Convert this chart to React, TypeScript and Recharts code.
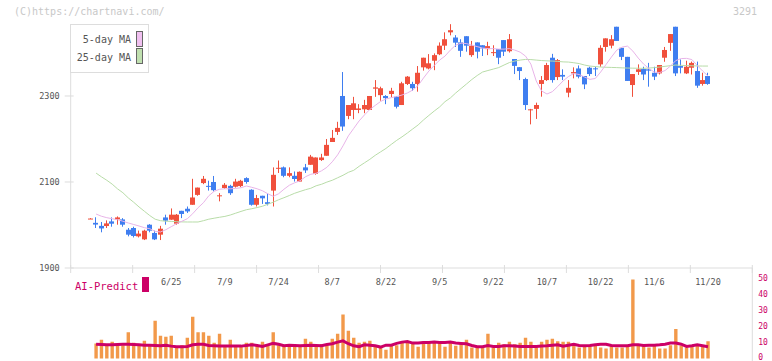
import React from 'react';
import { ComposedChart, Bar, Line, XAxis, YAxis } from 'recharts';

// ---- data ----
const tickIdx = [15, 25, 35, 45, 55, 65, 75, 85, 95, 105, 115];
const tickLabels = ['6/25', '7/9', '7/24', '8/7', '8/22', '9/5', '9/22', '10/7', '10/22', '11/6', '11/20'];
const priceTicks = [1900, 2100, 2300];
const volumeTicks = [0, 10, 20, 30, 40, 50];

const opens = [2015, 2005, 1998, 1997.6, 2008.4, 2013, 2013, 1989, 1993, 1973.6, 1966.6, 2000.7, 1981.5, 1977.5, 2017.6, 2012.3, 2003, 2033, 2037.8, 2047, 2070, 2097.5, 2091, 2100, 2068, 2086, 2091, 2089, 2090.5, 2109, 2082, 2047, 2068, 2053, 2080, 2131, 2134, 2114.4, 2114.4, 2101, 2134, 2140, 2119, 2151, 2161, 2193, 2216.5, 2300, 2253.6, 2267.5, 2267.5, 2269, 2267.5, 2317, 2302, 2300, 2304.6, 2298.4, 2279, 2328, 2328, 2328, 2366.6, 2364, 2382, 2397, 2417, 2448, 2436, 2424.6, 2439, 2395, 2424.6, 2418, 2409, 2400, 2409, 2430, 2404, 2386, 2367, 2339.4, 2267.5, 2270, 2328, 2337, 2389, 2344, 2349, 2307.7, 2352.6, 2364, 2346.4, 2365.7, 2364.3, 2373.5, 2414, 2417, 2461, 2412, 2391, 2325.5, 2356, 2362.6, 2362, 2354, 2352.6, 2389, 2423.6, 2461, 2369.6, 2352.6, 2365.7, 2358, 2328, 2346.4];
const highs = [2016, 2018, 2007, 2010.7, 2017.6, 2020, 2016, 1993, 1996, 1987, 1989, 2002, 1987, 1998, 2024, 2038.5, 2025.6, 2033, 2043, 2107.4, 2087, 2114, 2103, 2114, 2074, 2097.5, 2093.5, 2107.4, 2105, 2111, 2083, 2070, 2068, 2073, 2134, 2150, 2136, 2134, 2124.5, 2124.5, 2142, 2163, 2157, 2165.5, 2200, 2221, 2240, 2355.7, 2279, 2298, 2281, 2291, 2300, 2337, 2321.6, 2302, 2319, 2300, 2333, 2346.4, 2333, 2369.6, 2389, 2397.4, 2399, 2424.6, 2448, 2467, 2441.5, 2432, 2439, 2428, 2424.6, 2418, 2426, 2418, 2409, 2430, 2444, 2386, 2367, 2342.5, 2270, 2284.5, 2346.4, 2377, 2398, 2386, 2362, 2337, 2366.6, 2371, 2346.4, 2368, 2368, 2418, 2434, 2441.5, 2461, 2412, 2391, 2351, 2373.5, 2368, 2377, 2368, 2372, 2414, 2444, 2461, 2385, 2382, 2380, 2380, 2354, 2354];
const lows = [2014, 1993, 1983, 1993, 1996, 2000.7, 1996, 1973.6, 1971, 1971, 1965, 1983, 1965, 1965, 2000.7, 2012, 2000.7, 2016, 2028, 2047, 2068, 2095, 2080, 2078, 2055, 2084, 2070, 2087, 2088, 2096, 2045, 2043, 2049, 2045.5, 2043, 2121, 2111, 2111, 2101, 2101, 2121, 2140, 2117, 2149, 2161, 2193, 2209.5, 2219, 2246, 2246, 2260, 2260, 2267.5, 2298, 2289, 2281, 2297, 2271, 2279, 2325.5, 2312, 2310, 2359, 2362, 2360, 2395, 2407, 2441, 2414, 2391, 2403, 2391, 2387.5, 2393, 2395, 2393, 2374, 2393, 2401, 2351, 2337, 2267.5, 2234, 2246.6, 2298.4, 2335, 2331, 2337, 2337, 2297, 2341, 2341, 2316, 2346.4, 2346.4, 2368, 2403, 2410.7, 2428, 2383.5, 2335, 2298, 2349, 2337, 2321.6, 2337, 2350, 2379.6, 2405, 2346.4, 2352.6, 2351, 2350, 2319, 2324, 2326];
const closes = [2015, 2001, 1992, 2003.7, 2003, 2017.6, 2000.7, 1977.5, 1974.5, 1980, 1986.8, 1986.8, 1966.6, 1991.4, 2010, 2024, 2024, 2025.6, 2031.6, 2064, 2087, 2107.4, 2089, 2081, 2069, 2093.5, 2074, 2101, 2102.8, 2100, 2047, 2062.6, 2062, 2049, 2116.7, 2133, 2114.4, 2120.6, 2107, 2123.7, 2127, 2159, 2157, 2157, 2186.3, 2202.6, 2225.8, 2229, 2279, 2283, 2271, 2279, 2300, 2320, 2318, 2295, 2312, 2275, 2329.5, 2345, 2318, 2354, 2389, 2376, 2395, 2417, 2432, 2453, 2424, 2405, 2417, 2417, 2403, 2410.7, 2416, 2402, 2389, 2403, 2432, 2370, 2358, 2279, 2269, 2279, 2337, 2372, 2337, 2383.5, 2345, 2319, 2355.6, 2345, 2327, 2351, 2362, 2412, 2434, 2432, 2428, 2391, 2335, 2351, 2362, 2350, 2359, 2345, 2372, 2407, 2444, 2352.6, 2365.7, 2368, 2377, 2324, 2337, 2328];
const ma5 = [null, 2025.5, 2020.4, 2017, 2014.6, 2012.3, 2008.8, 2004.7, 2001.2, 1997.7, 1993.8, 1991.4, 1985.2, 1983.8, 1989.1, 1996.1, 2003, 2008.8, 2014.6, 2026.2, 2040.2, 2051.8, 2068, 2078.4, 2083.1, 2084.2, 2084.2, 2085, 2086.6, 2090.7, 2087.7, 2084.2, 2079.6, 2072.6, 2066.8, 2072.6, 2083.1, 2092.4, 2098.2, 2102.8, 2112.1, 2117.9, 2120.2, 2126, 2134.1, 2146.9, 2163.1, 2184, 2207.2, 2224.6, 2242, 2255.9, 2268.7, 2278, 2287.2, 2293, 2296.1, 2298.8, 2302.3, 2307, 2313.9, 2324.4, 2341.8, 2358, 2370.8, 2383.5, 2392.8, 2406.7, 2418.3, 2423, 2421.8, 2418.3, 2414.8, 2411.4, 2410.2, 2410.2, 2409, 2409, 2410.2, 2406.7, 2402, 2392.8, 2374.2, 2334.8, 2311.6, 2304.6, 2310, 2322, 2335, 2345.2, 2352.2, 2349.9, 2344, 2338.7, 2340.6, 2355.7, 2373.1, 2390.5, 2406.7, 2413.7, 2416, 2404.4, 2388.2, 2374.2, 2363.8, 2355.7, 2354.5, 2359.2, 2369.6, 2382.4, 2387, 2387.5, 2384.7, 2370.8, 2358, 2346.4];
const ma25 = [null, 2120.7, 2112, 2104, 2095, 2084, 2075, 2063, 2053, 2042, 2032, 2022, 2013.5, 2010, 2008.8, 2008.4, 2007.7, 2007.2, 2007, 2007, 2007, 2010, 2013.5, 2015.8, 2018, 2020, 2023.2, 2027.4, 2031.6, 2035.5, 2037.8, 2040.6, 2043.6, 2048.3, 2053, 2058.7, 2063.4, 2068.5, 2073.8, 2078, 2082, 2085.4, 2091.2, 2094.7, 2099.8, 2104, 2109.8, 2115.6, 2122.5, 2127.2, 2136.4, 2144.6, 2152.7, 2162, 2170, 2178, 2187.5, 2196.8, 2205, 2214, 2223.4, 2232.7, 2244.3, 2254.8, 2265, 2274.5, 2286.8, 2295.4, 2307, 2317.4, 2327.8, 2338.3, 2347.6, 2355.7, 2359.2, 2362.6, 2366, 2372, 2377.7, 2381.2, 2383.5, 2385, 2384.7, 2383.5, 2382.4, 2381.7, 2381.2, 2380.5, 2379.3, 2378.9, 2377.3, 2375.4, 2372, 2369.6, 2368.4, 2367.3, 2366.8, 2366.4, 2366, 2365.4, 2365, 2364.7, 2364.5, 2364.3, 2365, 2366, 2367.3, 2369, 2370.5, 2372, 2371.2, 2370.8, 2370.3, 2369.8, 2369.6, 2369.6];
const volume = [null, 9.4, 11.8, 9.0, 10.5, 8.0, 8.4, 16.4, 9.9, 8.4, 11.1, 8.4, 23.7, 14.3, 13.6, 14.3, 7.4, 8.4, 13, 26.2, 16.4, 16.4, 14.3, 9.9, 15.5, 8.0, 11.8, 8.4, 8.4, 9.9, 9.9, 8.4, 10.5, 8.0, 16.4, 8.4, 8.0, 8.4, 8.0, 8.0, 12.4, 10.5, 8.4, 9.2, 8.4, 12.4, 15.5, 27.5, 17.4, 13, 9.9, 10.5, 11.1, 8.4, 7.4, 5.5, 8.0, 8.4, 10.5, 10.5, 9.9, 7.4, 10.9, 10.9, 9.9, 9.9, 7.4, 10.5, 8.0, 9.7, 11.8, 6.9, 6.9, 6.9, 15.5, 6.9, 9.9, 9.0, 10.5, 9.0, 9.9, 13, 10.5, 6.9, 10.5, 11.8, 12.4, 10.9, 10.5, 10.5, 8.0, 6.9, 8.0, 8.0, 8.0, 6.9, 6.3, 8.0, 6.9, 6.9, 7.5, 49.5, 8.0, 8.0, 6.9, 8.0, 6.3, 6.3, 8.4, 18.5, 8.0, 6.9, 8.0, 9.0, 8.0, 10.9];
const aiPredict = [null, 9.0, 8.8, 8.6, 8.6, 8.8, 9.0, 9.0, 8.8, 8.6, 8.4, 8.4, 8.2, 8.0, 8.4, 7.8, 7.4, 7.4, 7.6, 8.6, 9.0, 9.0, 8.2, 8.0, 7.8, 7.8, 7.8, 7.8, 7.8, 8.2, 8.6, 8.2, 7.6, 8.6, 9.5, 9.0, 8.0, 8.4, 8.2, 8.0, 8.2, 8.4, 8.2, 8.0, 8.8, 9.3, 10.3, 11.1, 9.3, 8.0, 7.4, 8.6, 8.4, 8.0, 7.2, 8.4, 8.4, 9.5, 10.3, 10.7, 9.7, 9.7, 10.1, 10.1, 10.3, 10.1, 10.1, 10.3, 9.7, 9.5, 9.3, 8.2, 7.4, 7.4, 8.2, 7.6, 7.6, 8.0, 8.0, 7.8, 7.6, 7.6, 7.6, 7.6, 7.8, 8.0, 8.4, 8.6, 7.8, 8.4, 9.0, 8.2, 8.0, 8.2, 8.6, 9.0, 9.0, 8.2, 8.0, 8.0, 8.0, 8.6, 8.6, 8.2, 8.4, 8.4, 8.6, 9.0, 9.7, 9.7, 9.0, 7.6, 8.0, 8.6, 8.0, 7.4];

// ---- layout ----
const X_MIN = -3.726;
const X_MAX = 123.25;
const RED = '#f0503c';
const BLUE = '#3f7ef0';
const AXIS = '#dddddd';
const TEXT = '#555555';
const CRIMSON = '#cc0066';
const FONT = '"DejaVu Sans Mono", monospace';

const rows = opens.map((o, i) => ({
  i,
  o,
  h: highs[i],
  l: lows[i],
  c: closes[i],
  range: [lows[i], highs[i]],
  ma5: ma5[i],
  ma25: ma25[i],
  vol: volume[i],
  ai: aiPredict[i],
}));

const markTicks = Array.from({ length: 12 }, (_, k) => X_MIN + (k * (X_MAX - X_MIN)) / 11);
const xTicks = [...markTicks, ...tickIdx];

const Candle = (props: any) => {
  const { x, y, width, height, payload } = props;
  if (x == null || payload == null) return null;
  const { o, h, l, c } = payload;
  const top = Math.min(y, y + height);
  const hh = Math.abs(height);
  const span = h - l;
  const toY = (p: number) => (span === 0 ? top : top + ((h - p) / span) * hh);
  const color = c >= o ? RED : BLUE;
  const left = Math.round(x);
  const cx = left + 2.5;
  const bTop = toY(Math.max(o, c));
  const bBot = toY(Math.min(o, c));
  return (
    <g>
      <line x1={cx} x2={cx} y1={top} y2={top + hh} stroke={color} strokeWidth={1} />
      <rect x={left} y={bTop} width={5} height={Math.max(1, bBot - bTop)} fill={color} />
    </g>
  );
};

const XTick = (props: any) => {
  const { x, y, payload } = props;
  const k = tickIdx.indexOf(payload.value);
  if (k >= 0) {
    return (
      <text x={x} y={y + 14} textAnchor="middle" dominantBaseline="central" fill={TEXT} fontSize={8.5} fontFamily={FONT}>
        {tickLabels[k]}
      </text>
    );
  }
  return <line x1={x} x2={x} y1={y - 3} y2={y + 5} stroke={AXIS} strokeWidth={1} />;
};

const YTick = (props: any) => {
  const { x, y, payload } = props;
  return (
    <g>
      <line x1={x - 6} x2={x + 3} y1={y} y2={y} stroke={AXIS} strokeWidth={1} />
      <text x={x - 11} y={y} textAnchor="end" dominantBaseline="central" fill={TEXT} fontSize={8.5} fontFamily={FONT}>
        {payload.value}
      </text>
    </g>
  );
};

const VTick = (props: any) => {
  const { x, y, payload } = props;
  const dy = payload.value === 0 ? -1.5 : 0;
  return (
    <text x={x + 6} y={y + dy} textAnchor="start" dominantBaseline="central" fill={CRIMSON} fontSize={8} fontFamily={FONT}>
      {payload.value}
    </text>
  );
};

export default function App() {
  return (
    <div style={{ position: 'absolute', left: 0, top: 0, width: 772, height: 361, background: '#fff', overflow: 'hidden', fontFamily: FONT }}>
      <div style={{ position: 'absolute', left: 0, top: 0 }}>
        <ComposedChart width={772} height={300} data={rows} margin={{ top: 24, right: 19.7, bottom: 0, left: 10.7 }}>
          <XAxis
            type="number"
            dataKey="i"
            domain={[X_MIN, X_MAX]}
            allowDataOverflow
            ticks={xTicks}
            interval={0}
            height={32}
            tickSize={0}
            tickMargin={0}
            tickLine={false}
            axisLine={{ stroke: AXIS }}
            tick={XTick}
          />
          <YAxis
            type="number"
            domain={[1900, 2467.4]}
            allowDataOverflow
            ticks={priceTicks}
            interval={0}
            width={60}
            tickSize={0}
            tickMargin={0}
            tickLine={false}
            axisLine={{ stroke: AXIS }}
            tick={YTick}
          />
          <Line type="linear" dataKey="ma25" stroke="#b8dca8" strokeWidth={1} dot={false} isAnimationActive={false} />
          <Line type="linear" dataKey="ma5" stroke="#e8b4e8" strokeWidth={1} dot={false} isAnimationActive={false} />
          <Bar dataKey="range" barSize={5} shape={Candle} isAnimationActive={false} />
        </ComposedChart>
      </div>
      <div style={{ position: 'absolute', left: 0, top: 268 }}>
        <ComposedChart width={772} height={93} data={rows} margin={{ top: 0, right: 0, bottom: 0, left: 70.7 }}>
          <XAxis type="number" dataKey="i" domain={[X_MIN, X_MAX]} allowDataOverflow hide />
          <YAxis
            orientation="right"
            type="number"
            domain={[-1.5, 56.625]}
            allowDataOverflow
            ticks={volumeTicks}
            interval={0}
            width={19.7}
            tickSize={0}
            tickMargin={0}
            tickLine={false}
            axisLine={{ stroke: AXIS }}
            tick={VTick}
          />
          <Bar dataKey="vol" barSize={3.4} fill="#f2994a" isAnimationActive={false} />
          <Line type="linear" dataKey="ai" stroke={CRIMSON} strokeWidth={3} dot={false} isAnimationActive={false} />
        </ComposedChart>
      </div>
      <div style={{ position: 'absolute', left: 14, top: 5, fontSize: 10, color: '#c8c8c8', lineHeight: '14px' }}>(C)https://chartnavi.com/</div>
      <div style={{ position: 'absolute', left: 733, top: 5, fontSize: 10, color: '#c8c8c8', lineHeight: '14px' }}>3291</div>
      <div style={{ position: 'absolute', left: 70, top: 24, width: 77, height: 47, border: '1px solid #dddddd', background: '#fff' }}>
        <div style={{ position: 'absolute', right: 17, top: 8, fontSize: 10, color: TEXT, lineHeight: '14px', whiteSpace: 'nowrap' }}>5-day MA</div>
        <div style={{ position: 'absolute', right: 17, top: 26, fontSize: 10, color: TEXT, lineHeight: '14px', whiteSpace: 'nowrap' }}>25-day MA</div>
        <div style={{ position: 'absolute', left: 65, top: 6, width: 5, height: 14, border: '1px solid #666', background: '#f0c0f0' }} />
        <div style={{ position: 'absolute', left: 65, top: 23, width: 5, height: 14, border: '1px solid #666', background: '#c0e0b0' }} />
      </div>
      <div style={{ position: 'absolute', left: 75, top: 279, fontSize: 10.5, color: CRIMSON, lineHeight: '14px', whiteSpace: 'nowrap' }}>AI-Predict</div>
      <div style={{ position: 'absolute', left: 142, top: 277, width: 7, height: 15, background: CRIMSON }} />
    </div>
  );
}
